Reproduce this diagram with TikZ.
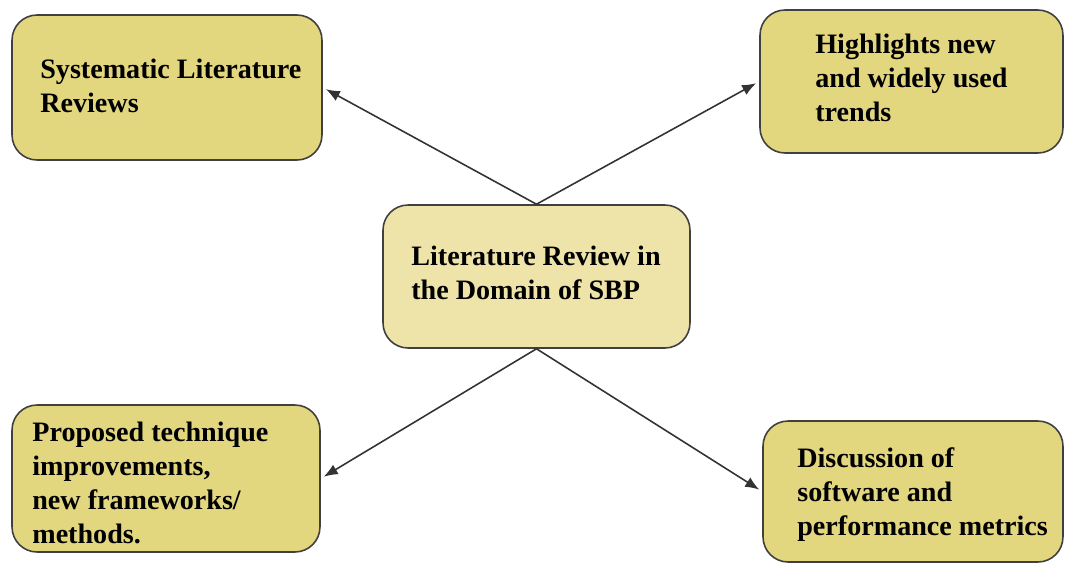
\documentclass[tikz,border=0pt]{standalone}
\usepackage{fontspec}
\setmainfont{Liberation Serif}
\usetikzlibrary{arrows.meta}
\definecolor{boxfill}{HTML}{E2D67F}
\definecolor{midfill}{HTML}{EEE4AA}

\begin{document}
\begin{tikzpicture}[x=0.02cm,y=-0.02cm,>={Latex[length=2.8mm,width=2.2mm]},
  box/.style={draw=black!75,line width=0.9pt,fill=boxfill,rounded corners=0.5cm,inner sep=0pt},
  txt/.style={anchor=west,align=left,inner sep=0pt,font=\bfseries\fontsize{16}{19.3}\selectfont},
  link/.style={->,draw=black!80,line width=0.9pt,shorten >=2pt}]
  \useasboundingbox (0,0) rectangle (1066,565);
  % boxes
  \node[box,minimum width=6.2cm,minimum height=2.9cm]   (slr)    at (167,87.5)    {};
  \node[box,minimum width=6.06cm,minimum height=2.86cm] (trends) at (911.5,81.5)  {};
  \node[box,fill=midfill,minimum width=6.14cm,minimum height=2.86cm] (lr) at (536.5,276.5) {};
  \node[box,minimum width=6.16cm,minimum height=2.94cm] (tech)   at (166,478.5)   {};
  \node[box,minimum width=6.0cm,minimum height=2.82cm]  (disc)   at (913,491.5)   {};
  % texts
  \node[txt] (slrtxt)    at (40,86)   {Systematic Literature\\Reviews};
  \node[txt] (trendstxt) at (815,78)  {Highlights new\\and widely used\\trends};
  \node[txt] (lrtxt)     at (411,273) {Literature Review in\\the Domain of SBP};
  \node[txt] (techtxt)   at (32,483)  {Proposed technique\\improvements,\\new frameworks/\\methods.};
  \node[txt] (disctxt)   at (797,495) {Discussion of\\software and\\performance metrics};
  \path
    (lr.north) edge[link] (slr.east)
               edge[link] (trends.west)
    (lr.south) edge[link] (tech.east)
               edge[link] (disc.west)
  ;
\end{tikzpicture}
\end{document}
